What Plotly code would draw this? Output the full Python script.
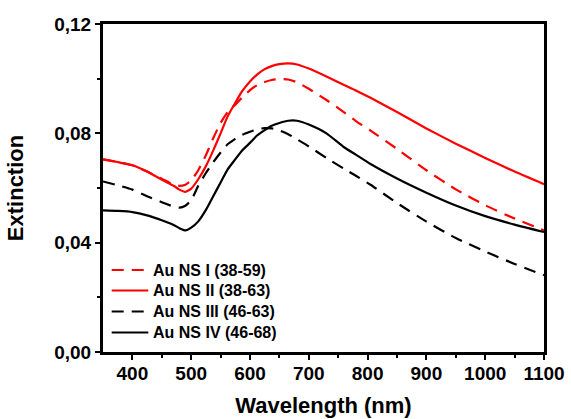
import plotly.graph_objects as go

# Extinction spectra of four Au nanostructure samples
wavelength = [350, 375, 400, 425, 450, 470, 480, 490, 500, 512, 525, 537, 550, 562,
              575, 587, 600, 612, 625, 637, 650, 665, 680, 700, 730, 760, 780, 805,
              850, 900, 950, 1000, 1050, 1100]

ns_i = [0.0705, 0.0695, 0.0683, 0.0660, 0.0634, 0.0612, 0.0608, 0.0612, 0.0628, 0.0665,
        0.0720, 0.0780, 0.0838, 0.0878, 0.0905, 0.0932, 0.0958, 0.0976, 0.0988, 0.0995,
        0.0999, 0.0997, 0.0987, 0.0963, 0.0922, 0.0877, 0.0845, 0.0810, 0.0743, 0.0665,
        0.0595, 0.0537, 0.0488, 0.0445]

ns_ii = [0.0705, 0.0695, 0.0683, 0.0660, 0.0630, 0.0608, 0.0594, 0.0586, 0.0598, 0.0632,
         0.0680, 0.0735, 0.0800, 0.0862, 0.0912, 0.0955, 0.0990, 0.1015, 0.1035, 0.1046,
         0.1053, 0.1056, 0.1052, 0.1037, 0.1008, 0.0977, 0.0957, 0.0930, 0.0878, 0.0818,
         0.0762, 0.0710, 0.0660, 0.0614]

ns_iii = [0.0624, 0.0610, 0.0594, 0.0570, 0.0548, 0.0532, 0.0528, 0.0535, 0.0555, 0.0608,
          0.0655, 0.0693, 0.0730, 0.0760, 0.0780, 0.0795, 0.0806, 0.0815, 0.0819, 0.0818,
          0.0811, 0.0797, 0.0778, 0.0752, 0.0710, 0.0670, 0.0645, 0.0612, 0.0545, 0.0477,
          0.0417, 0.0368, 0.0322, 0.0281]

ns_iv = [0.0518, 0.0516, 0.0512, 0.0500, 0.0482, 0.0465, 0.0453, 0.0445, 0.0455, 0.0478,
         0.0520, 0.0568, 0.0620, 0.0668, 0.0705, 0.0738, 0.0765, 0.0792, 0.0812, 0.0828,
         0.0838, 0.0846, 0.0846, 0.0832, 0.0800, 0.0749, 0.0722, 0.0688, 0.0635, 0.0583,
         0.0536, 0.0497, 0.0466, 0.0439]

names = ["Au NS I (38-59)", "Au NS II (38-63)", "Au NS III (46-63)", "Au NS IV (46-68)"]
series = [ns_i, ns_ii, ns_iii, ns_iv]
colors = ["#ff0000", "#ff0000", "#000000", "#000000"]
dashes = ["12px,8px", "solid", "12px,8px", "solid"]

font_family = "Liberation Sans, Arial, sans-serif"

W, H = 571, 419
ML, MR, MT, MB = 103, 27, 24, 67
PW, PH = W - ML - MR, H - MT - MB


def px_x(px):
    return (px - ML) / PW


def px_y(py):
    return (H - MB - py) / PH


fig = go.Figure()
for name, vals, col, dsh in zip(names, series, colors, dashes):
    fig.add_trace(go.Scatter(
        x=wavelength, y=vals, name=name, mode="lines", showlegend=False,
        line=dict(color=col, width=2.2, dash=dsh, shape="spline", smoothing=0.5),
    ))

# Key in the lower-left corner of the plot area
key_rows = [270, 290.5, 311.5, 332.5]
for name, col, dsh, row in zip(names, colors, dashes, key_rows):
    x_end = 143.7 if dsh != "solid" else 148.3
    fig.add_shape(type="line", xref="paper", yref="paper",
                  x0=px_x(111.7), x1=px_x(x_end), y0=px_y(row), y1=px_y(row),
                  line=dict(color=col, width=2.2, dash=dsh))
    fig.add_annotation(xref="paper", yref="paper", x=px_x(151), y=px_y(row),
                       xanchor="left", yanchor="middle", showarrow=False, text=name,
                       font=dict(family=font_family, size=16, color="black", weight="bold"))

axis_common = dict(
    automargin=False,
    showgrid=False, zeroline=False,
    showline=True, linecolor="black", linewidth=3, mirror=True,
    ticks="outside", ticklen=5, tickwidth=2, tickcolor="black",
    tickfont=dict(family=font_family, size=19, weight="bold"),
)

fig.update_layout(
    width=W, height=H,
    margin=dict(l=ML, r=MR, t=MT, b=MB),
    paper_bgcolor="white", plot_bgcolor="white",
    separators=", ",
    font=dict(family=font_family, color="black"),
    showlegend=False,
    xaxis=dict(
        range=[350, 1100], tickvals=[400, 500, 600, 700, 800, 900, 1000, 1100],
        minor=dict(tickvals=[450, 550, 650, 750, 850, 950, 1050], ticks="outside",
                   ticklen=3, tickwidth=2, tickcolor="black"),
        ticklabelstandoff=-3,
        title=dict(text="Wavelength (nm)", standoff=15,
                   font=dict(family=font_family, size=22, weight="bold")),
        **axis_common,
    ),
    yaxis=dict(
        range=[0, 0.12], tickvals=[0, 0.04, 0.08, 0.12], tickformat=".2f",
        minor=dict(tickvals=[0.02, 0.06, 0.10], ticks="outside",
                   ticklen=3, tickwidth=2, tickcolor="black"),
        title=dict(text="Extinction", standoff=25,
                   font=dict(family=font_family, size=22, weight="bold")),
        **axis_common,
    ),
)

fig.write_html("out.html")
